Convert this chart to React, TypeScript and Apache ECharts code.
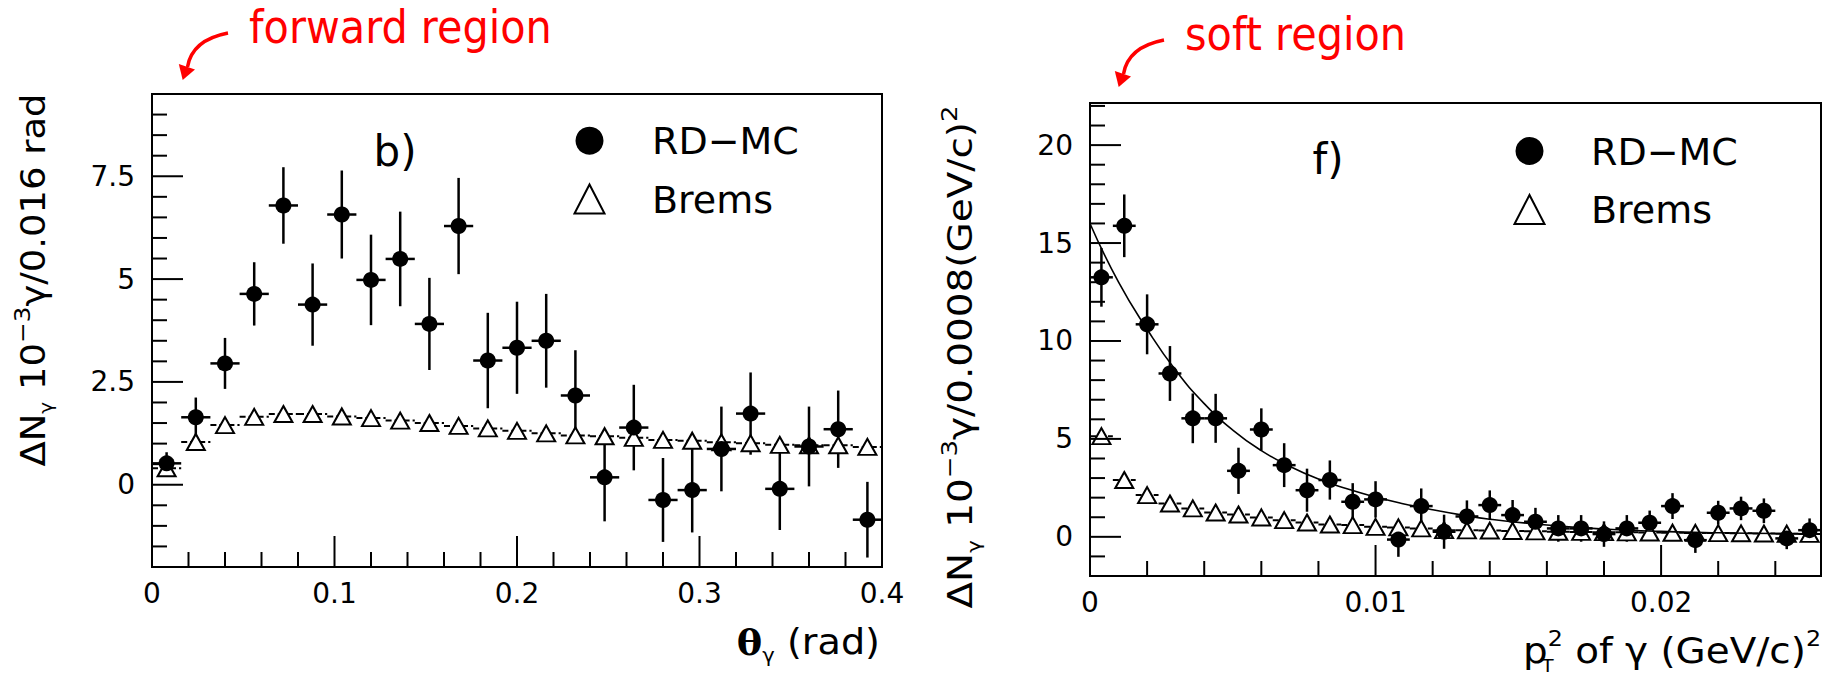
import React, { useEffect, useRef } from "react";
import * as echarts from "echarts";

const FONT = "'DejaVu Sans', 'Liberation Sans', sans-serif";

// ---------- Panel b): theta_gamma, bins of 0.016 rad ----------
const THETA_BINS = [0.008, 0.024, 0.040, 0.056, 0.072, 0.088, 0.104, 0.120, 0.136, 0.152, 0.168, 0.184, 0.200, 0.216, 0.232, 0.248, 0.264, 0.280, 0.296, 0.312, 0.328, 0.344, 0.360, 0.376, 0.392];
const THETA_RDMC = [0.52, 1.64, 2.95, 4.64, 6.79, 4.38, 6.57, 4.98, 5.49, 3.91, 6.29, 3.02, 3.33, 3.50, 2.17, 0.18, 1.39, -0.37, -0.13, 0.87, 1.73, -0.10, 0.93, 1.35, -0.85];
const THETA_RDMC_ERR = [0.27, 0.48, 0.62, 0.77, 0.93, 1.0, 1.07, 1.1, 1.15, 1.12, 1.17, 1.16, 1.12, 1.14, 1.1, 1.07, 1.04, 1.02, 1.03, 1.03, 1.0, 1.0, 0.97, 0.94, 0.92];
const THETA_BREMS = [0.40, 1.04, 1.45, 1.65, 1.72, 1.72, 1.66, 1.62, 1.56, 1.50, 1.43, 1.37, 1.31, 1.25, 1.20, 1.18, 1.14, 1.09, 1.07, 1.03, 1.01, 0.97, 0.96, 0.96, 0.92];
const THETA_HALF_BIN = 0.008;

// ---------- Panel f): pT^2, bins of 0.0008 (GeV/c)^2 ----------
const PT2_BINS = [0.0004, 0.0012, 0.0020, 0.0028, 0.0036, 0.0044, 0.0052, 0.0060, 0.0068, 0.0076, 0.0084, 0.0092, 0.0100, 0.0108, 0.0116, 0.0124, 0.0132, 0.0140, 0.0148, 0.0156, 0.0164, 0.0172, 0.0180, 0.0188, 0.0196, 0.0204, 0.0212, 0.0220, 0.0228, 0.0236, 0.0244, 0.0252];
const PT2_RDMC = [13.25, 15.88, 10.85, 8.34, 6.05, 6.05, 3.37, 5.48, 3.66, 2.38, 2.90, 1.79, 1.91, -0.14, 1.57, 0.26, 1.04, 1.62, 1.11, 0.77, 0.43, 0.43, 0.14, 0.43, 0.72, 1.57, -0.17, 1.23, 1.45, 1.33, -0.08, 0.34];
const PT2_RDMC_ERR = [1.5, 1.6, 1.53, 1.4, 1.27, 1.25, 1.18, 1.08, 1.12, 1.1, 1.0, 0.95, 0.93, 0.88, 0.9, 0.87, 0.82, 0.75, 0.77, 0.71, 0.68, 0.68, 0.65, 0.68, 0.62, 0.66, 0.65, 0.61, 0.6, 0.63, 0.55, 0.6];
const PT2_BREMS = [5.14, 2.90, 2.13, 1.70, 1.45, 1.24, 1.14, 0.99, 0.85, 0.73, 0.63, 0.60, 0.51, 0.48, 0.43, 0.34, 0.33, 0.32, 0.30, 0.28, 0.26, 0.25, 0.24, 0.23, 0.22, 0.21, 0.20, 0.19, 0.18, 0.17, 0.16, 0.15];
const PT2_HALF_BIN = 0.0004;
// fitted curve
const FIT_X = [0, 0.001, 0.002, 0.003, 0.004, 0.005, 0.006, 0.007, 0.008, 0.009, 0.010, 0.011, 0.012, 0.013, 0.014, 0.016, 0.018, 0.020, 0.022, 0.024, 0.0256];
const FIT_Y = [16.0, 13.0, 10.6, 8.5, 6.8, 5.45, 4.4, 3.6, 2.95, 2.45, 2.03, 1.68, 1.38, 1.12, 0.9, 0.6, 0.4, 0.28, 0.21, 0.17, 0.15];

// ---------- tick labels ----------
const THETA_X_LABELS = [0, 0.1, 0.2, 0.3, 0.4];
const THETA_Y_LABELS = [0, 2.5, 5, 7.5];
const PT2_X_LABELS = [0, 0.01, 0.02];
const PT2_Y_LABELS = [0, 5, 10, 15, 20];

const labelFmt = (labels: number[]) => (v: number) => {
  const m = labels.find((l) => Math.abs(l - v) < 1e-7);
  return m === undefined ? "" : String(m);
};

function tickData(axis: "x" | "y", from: number, to: number, step: number, majorStep: number, other: number) {
  const out: number[][] = [];
  const n = Math.round((to - from) / step);
  for (let i = 0; i <= n; i++) {
    const v = +(from + i * step).toFixed(6);
    const r = v / majorStep;
    const major = Math.abs(r - Math.round(r)) < 1e-6;
    const len = major ? 31 : 15;
    out.push(axis === "y" ? [other, v, len, 0] : [v, other, len, 1]);
  }
  return out;
}

const tickRender = (_p: any, api: any) => {
  const pt = api.coord([api.value(0), api.value(1)]);
  const len = api.value(2);
  const dir = api.value(3);
  const shape = dir === 0
    ? { x1: pt[0], y1: pt[1], x2: pt[0] + len, y2: pt[1] }
    : { x1: pt[0], y1: pt[1], x2: pt[0], y2: pt[1] - len };
  return { type: "line", shape, style: { stroke: "#000", lineWidth: 2 } };
};

const errRender = (half: number) => (_p: any, api: any) => {
  const x = api.value(0), y = api.value(1), e = api.value(2);
  const t = api.coord([x, y + e]), b = api.coord([x, y - e]);
  const l = api.coord([x - half, y]), r = api.coord([x + half, y]);
  return {
    type: "group",
    children: [
      { type: "line", shape: { x1: t[0], y1: t[1], x2: b[0], y2: b[1] }, style: { stroke: "#000", lineWidth: 2.5 } },
      { type: "line", shape: { x1: l[0], y1: l[1], x2: r[0], y2: r[1] }, style: { stroke: "#000", lineWidth: 2.5 } },
    ],
  };
};

const dashRender = (half: number) => (_p: any, api: any) => {
  const x = api.value(0), y = api.value(1);
  const l = api.coord([x - half, y]), r = api.coord([x + half, y]);
  return { type: "line", shape: { x1: l[0], y1: l[1], x2: r[0], y2: r[1] }, style: { stroke: "#000", lineWidth: 2, lineDash: [6, 3] } };
};

function panelSeries(idx: number, bins: number[], rd: number[], rdErr: number[], brems: number[], half: number, ticks: number[][]) {
  const base = { xAxisIndex: idx, yAxisIndex: idx, silent: true, animation: false };
  return [
    { ...base, type: "custom", name: "ticks" + idx, renderItem: tickRender, data: ticks, clip: false, z: 5 },
    { ...base, type: "custom", name: "bremsBins" + idx, renderItem: dashRender(half), data: bins.map((x, i) => [x, brems[i]]), clip: false },
    {
      ...base, type: "scatter", name: "Brems", symbol: "triangle", symbolSize: [18, 16],
      itemStyle: { color: "#fff", borderColor: "#000", borderWidth: 2, opacity: 1 },
      emphasis: { disabled: true }, data: bins.map((x, i) => [x, brems[i]]),
    },
    { ...base, type: "custom", name: "rdErr" + idx, renderItem: errRender(half), data: bins.map((x, i) => [x, rd[i], rdErr[i]]), clip: false },
    {
      ...base, type: "scatter", name: "RD−MC", symbol: "circle", symbolSize: 16,
      itemStyle: { color: "#000", opacity: 1 }, emphasis: { disabled: true },
      data: bins.map((x, i) => [x, rd[i]]),
    },
  ];
}

const axisCommon = {
  type: "value",
  axisLine: { show: false },
  axisTick: { show: false },
  splitLine: { show: false },
};

const arrowShape = (dx: number, dy: number) => [
  {
    type: "bezierCurve",
    shape: { x1: 228 + dx, y1: 33 + dy, cpx1: 192 + dx, cpy1: 40 + dy, x2: 187.5 + dx, y2: 67 + dy },
    style: { stroke: "#ff0000", lineWidth: 3.5, fill: "none" },
  },
  {
    type: "polygon",
    shape: { points: [[182.7 + dx, 80 + dy], [178.8 + dx, 64 + dy], [195 + dx, 69.5 + dy]] },
    style: { fill: "#ff0000" },
  },
];

const main = (fs: number) => ({ fontSize: fs, fontFamily: FONT, fill: "#000", lineHeight: fs + 11 });
const sup = (fs: number) => ({ fontSize: fs, fontFamily: FONT, fill: "#000", lineHeight: fs + 2, verticalAlign: "top" });
const sub = (fs: number) => ({ fontSize: fs, fontFamily: FONT, fill: "#000", lineHeight: fs + 2, verticalAlign: "bottom" });

const legend = (cx: number, cy1: number, cy2: number, tx: number) => [
  { type: "circle", shape: { cx, cy: cy1, r: 14 }, style: { fill: "#000" } },
  {
    type: "polygon",
    shape: { points: [[cx - 15, cy2 + 14], [cx + 15, cy2 + 14], [cx, cy2 - 15]] },
    style: { fill: "#fff", stroke: "#000", lineWidth: 2 },
  },
  { type: "text", x: tx, y: cy1 + 0.5, style: { text: "RD−MC", fontSize: 38, fontFamily: FONT, fill: "#000", align: "left", verticalAlign: "middle" } },
  { type: "text", x: tx, y: cy2, style: { text: "Brems", fontSize: 38, fontFamily: FONT, fill: "#000", align: "left", verticalAlign: "middle" } },
];

function buildOption() {
  const ticks0 = [
    ...tickData("y", -1.5, 9.0, 0.5, 2.5, 0),
    ...tickData("x", 0.02, 0.38, 0.02, 0.1, -2),
  ];
  const ticks1 = [
    ...tickData("y", -1, 22, 1, 5, 0),
    ...tickData("x", 0.002, 0.024, 0.002, 0.01, -2),
  ];
  return {
    animation: false,
    backgroundColor: "#fff",
    textStyle: { fontFamily: FONT },
    grid: [
      { left: 152, top: 94, width: 730, height: 473, show: true, borderColor: "#000", borderWidth: 2, backgroundColor: "transparent", outerBoundsMode: "none" },
      { left: 1090, top: 103, width: 731, height: 473, show: true, borderColor: "#000", borderWidth: 2, backgroundColor: "transparent", outerBoundsMode: "none" },
    ],
    xAxis: [
      { ...axisCommon, gridIndex: 0, min: 0, max: 0.4, interval: 0.1, axisLabel: { fontSize: 28, color: "#000", fontFamily: FONT, margin: 12, formatter: labelFmt(THETA_X_LABELS) } },
      { ...axisCommon, gridIndex: 1, min: 0, max: 0.0256, interval: 0.01, axisLabel: { fontSize: 28, color: "#000", fontFamily: FONT, margin: 12, formatter: labelFmt(PT2_X_LABELS) } },
    ],
    yAxis: [
      { ...axisCommon, gridIndex: 0, min: -2, max: 9.5, interval: 0.5, axisLabel: { fontSize: 28, color: "#000", fontFamily: FONT, margin: 17, formatter: labelFmt(THETA_Y_LABELS) } },
      { ...axisCommon, gridIndex: 1, min: -2, max: 22.15, interval: 1, axisLabel: { fontSize: 28, color: "#000", fontFamily: FONT, margin: 17, formatter: labelFmt(PT2_Y_LABELS) } },
    ],
    series: [
      ...panelSeries(0, THETA_BINS, THETA_RDMC, THETA_RDMC_ERR, THETA_BREMS, THETA_HALF_BIN, ticks0),
      {
        type: "line", name: "fit", xAxisIndex: 1, yAxisIndex: 1, silent: true, showSymbol: false, symbol: "none",
        smooth: 0.5, lineStyle: { color: "#000", width: 1.6 },
        data: FIT_X.map((x, i) => [x, FIT_Y[i]]), z: 3,
      },
      ...panelSeries(1, PT2_BINS, PT2_RDMC, PT2_RDMC_ERR, PT2_BREMS, PT2_HALF_BIN, ticks1),
    ],
    graphic: [
      // red annotations
      { type: "text", x: 249, y: 27, scaleX: 0.9, style: { text: "forward region", fontSize: 46, fontFamily: FONT, fill: "#ff0000", align: "left", verticalAlign: "middle" } },
      { type: "text", x: 1185, y: 34, scaleX: 0.9, style: { text: "soft region", fontSize: 46, fontFamily: FONT, fill: "#ff0000", align: "left", verticalAlign: "middle" } },
      ...arrowShape(0, 0),
      ...arrowShape(936, 7),
      // panel tags
      { type: "text", x: 395, y: 151, style: { text: "b)", fontSize: 42, fontFamily: FONT, fill: "#000", align: "center", verticalAlign: "middle" } },
      { type: "text", x: 1328, y: 159, style: { text: "f)", fontSize: 42, fontFamily: FONT, fill: "#000", align: "center", verticalAlign: "middle" } },
      // legends
      ...legend(589.5, 140.7, 199.5, 652),
      ...legend(1529.5, 151, 210, 1591),
      // y-axis titles
      {
        type: "text", x: 33, y: 280, rotation: Math.PI / 2, scaleX: 1.12,
        style: {
          text: "{m|ΔN}{s|γ}{m| 10}{p|−3}{m|γ/0.016 rad}",
          rich: { m: main(33), s: sub(18), p: sup(22) },
          align: "center", verticalAlign: "middle",
        },
      },
      {
        type: "text", x: 961, y: 357, rotation: Math.PI / 2, scaleX: 1.18,
        style: {
          text: "{m|ΔN}{s|γ}{m| 10}{p|−3}{m|γ/0.0008(GeV/c)}{p|2}",
          rich: { m: main(33), s: sub(18), p: sup(22) },
          align: "center", verticalAlign: "middle",
        },
      },
      // x-axis titles
      {
        type: "text", x: 880, y: 642, scaleX: 1.06,
        style: {
          text: "{b|θ}{s|γ}{m| (rad)}",
          rich: {
            b: { fontSize: 36, fontFamily: "'DejaVu Serif', serif", fontWeight: "bold", fill: "#000", lineHeight: 47 },
            m: main(36), s: sub(20),
          },
          align: "right", verticalAlign: "middle",
        },
      },
      {
        type: "text", x: 1821, y: 651, scaleX: 1.08,
        style: {
          text: "{m|p}{t|T}{p|2}{m| of γ (GeV/c)}{p|2}",
          rich: {
            m: main(36),
            p: { ...sup(22), align: "left" },
            t: { ...sub(18), width: 0, align: "left" },
          },
          align: "right", verticalAlign: "middle",
        },
      },
    ],
  };
}

export default function App() {
  const ref = useRef<HTMLDivElement>(null);
  useEffect(() => {
    if (!ref.current) return;
    const chart = echarts.init(ref.current, undefined, { renderer: "svg" });
    chart.setOption(buildOption() as any);
    return () => chart.dispose();
  }, []);
  return (
    <div
      ref={ref}
      style={{ position: "fixed", left: 0, top: 0, width: 1837, height: 676, background: "#fff" }}
    />
  );
}
